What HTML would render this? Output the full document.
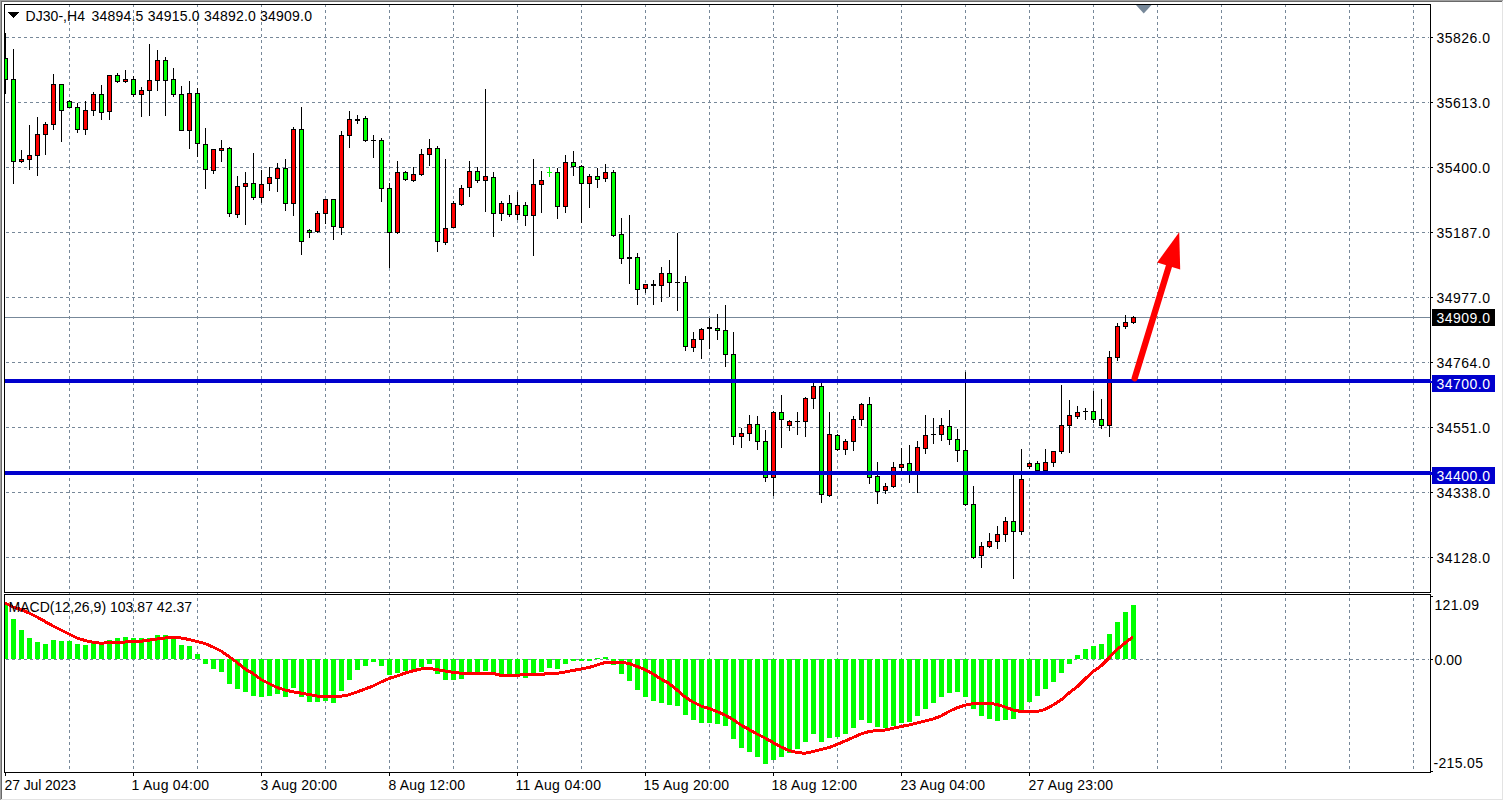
<!DOCTYPE html>
<html><head><meta charset="utf-8"><title>DJ30 H4</title><style>
html,body{margin:0;padding:0;background:#fff;width:1504px;height:801px;overflow:hidden}
svg{display:block}
text{font-family:"Liberation Sans",sans-serif;font-size:14px}
</style></head><body>
<svg width="1504" height="801" viewBox="0 0 1504 801" shape-rendering="crispEdges">
<defs>
<pattern id="hd" x="0" y="0" width="6" height="1" patternUnits="userSpaceOnUse"><rect width="3" height="1" fill="#778899"/></pattern>
<pattern id="vd" x="0" y="4" width="1" height="6" patternUnits="userSpaceOnUse"><rect width="1" height="3" fill="#778899"/></pattern>
<clipPath id="cm"><rect x="5" y="5" width="1425" height="587"/></clipPath>
<clipPath id="cmacd"><rect x="5" y="595" width="1425" height="177"/></clipPath>
</defs>
<rect width="1504" height="801" fill="#fff"/>
<rect x="0" y="0" width="1503" height="1" fill="#a0a0a0"/><rect x="0" y="0" width="1" height="800" fill="#a0a0a0"/><rect x="1" y="1" width="1501" height="1" fill="#696969"/><rect x="1" y="1" width="1" height="798" fill="#696969"/><rect x="1502" y="1" width="1" height="799" fill="#e3e3e3"/><rect x="1" y="799" width="1502" height="1" fill="#e3e3e3"/><rect x="69" y="5" width="1" height="767" fill="url(#vd)"/><rect x="133" y="5" width="1" height="767" fill="url(#vd)"/><rect x="197" y="5" width="1" height="767" fill="url(#vd)"/><rect x="261" y="5" width="1" height="767" fill="url(#vd)"/><rect x="325" y="5" width="1" height="767" fill="url(#vd)"/><rect x="389" y="5" width="1" height="767" fill="url(#vd)"/><rect x="453" y="5" width="1" height="767" fill="url(#vd)"/><rect x="517" y="5" width="1" height="767" fill="url(#vd)"/><rect x="581" y="5" width="1" height="767" fill="url(#vd)"/><rect x="645" y="5" width="1" height="767" fill="url(#vd)"/><rect x="709" y="5" width="1" height="767" fill="url(#vd)"/><rect x="773" y="5" width="1" height="767" fill="url(#vd)"/><rect x="837" y="5" width="1" height="767" fill="url(#vd)"/><rect x="901" y="5" width="1" height="767" fill="url(#vd)"/><rect x="965" y="5" width="1" height="767" fill="url(#vd)"/><rect x="1029" y="5" width="1" height="767" fill="url(#vd)"/><rect x="1093" y="5" width="1" height="767" fill="url(#vd)"/><rect x="1157" y="5" width="1" height="767" fill="url(#vd)"/><rect x="1221" y="5" width="1" height="767" fill="url(#vd)"/><rect x="1285" y="5" width="1" height="767" fill="url(#vd)"/><rect x="1349" y="5" width="1" height="767" fill="url(#vd)"/><rect x="1413" y="5" width="1" height="767" fill="url(#vd)"/><rect x="5" y="37" width="1424" height="1" fill="url(#hd)"/><rect x="5" y="102" width="1424" height="1" fill="url(#hd)"/><rect x="5" y="167" width="1424" height="1" fill="url(#hd)"/><rect x="5" y="232" width="1424" height="1" fill="url(#hd)"/><rect x="5" y="297" width="1424" height="1" fill="url(#hd)"/><rect x="5" y="362" width="1424" height="1" fill="url(#hd)"/><rect x="5" y="427" width="1424" height="1" fill="url(#hd)"/><rect x="5" y="492" width="1424" height="1" fill="url(#hd)"/><rect x="5" y="557" width="1424" height="1" fill="url(#hd)"/><rect x="5" y="659" width="1424" height="1" fill="url(#hd)"/><rect x="5" y="317" width="1425" height="1" fill="#778899"/><g clip-path="url(#cm)"><rect x="5" y="33" width="1" height="61" fill="#000"/><rect x="3" y="58" width="5" height="22" fill="#000"/><rect x="4" y="59" width="3" height="20" fill="#00ff00"/><rect x="13" y="49" width="1" height="135" fill="#000"/><rect x="11" y="79" width="5" height="83" fill="#000"/><rect x="12" y="80" width="3" height="81" fill="#00ff00"/><rect x="21" y="150" width="1" height="13" fill="#000"/><rect x="19" y="159" width="5" height="3" fill="#000"/><rect x="20" y="160" width="3" height="1" fill="#ff0000"/><rect x="29" y="125" width="1" height="45" fill="#000"/><rect x="27" y="155" width="5" height="5" fill="#000"/><rect x="28" y="156" width="3" height="3" fill="#ff0000"/><rect x="37" y="117" width="1" height="59" fill="#000"/><rect x="35" y="134" width="5" height="22" fill="#000"/><rect x="36" y="135" width="3" height="20" fill="#ff0000"/><rect x="45" y="122" width="1" height="33" fill="#000"/><rect x="43" y="124" width="5" height="11" fill="#000"/><rect x="44" y="125" width="3" height="9" fill="#ff0000"/><rect x="53" y="74" width="1" height="56" fill="#000"/><rect x="51" y="84" width="5" height="41" fill="#000"/><rect x="52" y="85" width="3" height="39" fill="#ff0000"/><rect x="61" y="84" width="1" height="58" fill="#000"/><rect x="59" y="84" width="5" height="27" fill="#000"/><rect x="60" y="85" width="3" height="25" fill="#00ff00"/><rect x="69" y="100" width="1" height="8" fill="#000"/><rect x="67" y="101" width="5" height="7" fill="#000"/><rect x="68" y="102" width="3" height="5" fill="#00ff00"/><rect x="77" y="103" width="1" height="30" fill="#000"/><rect x="75" y="107" width="5" height="23" fill="#000"/><rect x="76" y="108" width="3" height="21" fill="#00ff00"/><rect x="85" y="101" width="1" height="34" fill="#000"/><rect x="83" y="110" width="5" height="20" fill="#000"/><rect x="84" y="111" width="3" height="18" fill="#ff0000"/><rect x="93" y="92" width="1" height="24" fill="#000"/><rect x="91" y="94" width="5" height="17" fill="#000"/><rect x="92" y="95" width="3" height="15" fill="#ff0000"/><rect x="101" y="85" width="1" height="35" fill="#000"/><rect x="99" y="94" width="5" height="19" fill="#000"/><rect x="100" y="95" width="3" height="17" fill="#00ff00"/><rect x="109" y="75" width="1" height="45" fill="#000"/><rect x="107" y="75" width="5" height="37" fill="#000"/><rect x="108" y="76" width="3" height="35" fill="#ff0000"/><rect x="117" y="73" width="1" height="10" fill="#000"/><rect x="115" y="75" width="5" height="7" fill="#000"/><rect x="116" y="76" width="3" height="5" fill="#00ff00"/><rect x="125" y="70" width="1" height="13" fill="#000"/><rect x="123" y="79" width="5" height="3" fill="#000"/><rect x="124" y="80" width="3" height="1" fill="#ff0000"/><rect x="133" y="76" width="1" height="21" fill="#000"/><rect x="131" y="79" width="5" height="16" fill="#000"/><rect x="132" y="80" width="3" height="14" fill="#00ff00"/><rect x="141" y="87" width="1" height="30" fill="#000"/><rect x="139" y="90" width="5" height="5" fill="#000"/><rect x="140" y="91" width="3" height="3" fill="#ff0000"/><rect x="149" y="44" width="1" height="72" fill="#000"/><rect x="147" y="80" width="5" height="11" fill="#000"/><rect x="148" y="81" width="3" height="9" fill="#ff0000"/><rect x="157" y="50" width="1" height="41" fill="#000"/><rect x="155" y="60" width="5" height="21" fill="#000"/><rect x="156" y="61" width="3" height="19" fill="#ff0000"/><rect x="165" y="57" width="1" height="59" fill="#000"/><rect x="163" y="60" width="5" height="21" fill="#000"/><rect x="164" y="61" width="3" height="19" fill="#00ff00"/><rect x="173" y="68" width="1" height="29" fill="#000"/><rect x="171" y="79" width="5" height="16" fill="#000"/><rect x="172" y="80" width="3" height="14" fill="#00ff00"/><rect x="181" y="86" width="1" height="45" fill="#000"/><rect x="179" y="94" width="5" height="37" fill="#000"/><rect x="180" y="95" width="3" height="35" fill="#00ff00"/><rect x="189" y="81" width="1" height="68" fill="#000"/><rect x="187" y="93" width="5" height="38" fill="#000"/><rect x="188" y="94" width="3" height="36" fill="#ff0000"/><rect x="197" y="88" width="1" height="69" fill="#000"/><rect x="195" y="93" width="5" height="51" fill="#000"/><rect x="196" y="94" width="3" height="49" fill="#00ff00"/><rect x="205" y="128" width="1" height="61" fill="#000"/><rect x="203" y="144" width="5" height="26" fill="#000"/><rect x="204" y="145" width="3" height="24" fill="#00ff00"/><rect x="213" y="149" width="1" height="25" fill="#000"/><rect x="211" y="149" width="5" height="22" fill="#000"/><rect x="212" y="150" width="3" height="20" fill="#ff0000"/><rect x="221" y="140" width="1" height="22" fill="#000"/><rect x="219" y="148" width="5" height="3" fill="#000"/><rect x="220" y="149" width="3" height="1" fill="#ff0000"/><rect x="229" y="147" width="1" height="70" fill="#000"/><rect x="227" y="148" width="5" height="66" fill="#000"/><rect x="228" y="149" width="3" height="64" fill="#00ff00"/><rect x="237" y="176" width="1" height="42" fill="#000"/><rect x="235" y="186" width="5" height="29" fill="#000"/><rect x="236" y="187" width="3" height="27" fill="#ff0000"/><rect x="245" y="172" width="1" height="53" fill="#000"/><rect x="243" y="183" width="5" height="4" fill="#000"/><rect x="244" y="184" width="3" height="2" fill="#ff0000"/><rect x="253" y="153" width="1" height="47" fill="#000"/><rect x="251" y="183" width="5" height="15" fill="#000"/><rect x="252" y="184" width="3" height="13" fill="#00ff00"/><rect x="261" y="170" width="1" height="33" fill="#000"/><rect x="259" y="184" width="5" height="14" fill="#000"/><rect x="260" y="185" width="3" height="12" fill="#ff0000"/><rect x="269" y="167" width="1" height="24" fill="#000"/><rect x="267" y="177" width="5" height="7" fill="#000"/><rect x="268" y="178" width="3" height="5" fill="#ff0000"/><rect x="277" y="163" width="1" height="29" fill="#000"/><rect x="275" y="168" width="5" height="11" fill="#000"/><rect x="276" y="169" width="3" height="9" fill="#ff0000"/><rect x="285" y="159" width="1" height="52" fill="#000"/><rect x="283" y="168" width="5" height="36" fill="#000"/><rect x="284" y="169" width="3" height="34" fill="#00ff00"/><rect x="293" y="127" width="1" height="89" fill="#000"/><rect x="291" y="129" width="5" height="75" fill="#000"/><rect x="292" y="130" width="3" height="73" fill="#ff0000"/><rect x="301" y="107" width="1" height="148" fill="#000"/><rect x="299" y="129" width="5" height="113" fill="#000"/><rect x="300" y="130" width="3" height="111" fill="#00ff00"/><rect x="309" y="229" width="1" height="9" fill="#000"/><rect x="307" y="230" width="5" height="3" fill="#000"/><rect x="308" y="231" width="3" height="1" fill="#00ff00"/><rect x="317" y="211" width="1" height="22" fill="#000"/><rect x="315" y="213" width="5" height="19" fill="#000"/><rect x="316" y="214" width="3" height="17" fill="#ff0000"/><rect x="325" y="199" width="1" height="25" fill="#000"/><rect x="323" y="199" width="5" height="15" fill="#000"/><rect x="324" y="200" width="3" height="13" fill="#ff0000"/><rect x="333" y="199" width="1" height="41" fill="#000"/><rect x="331" y="199" width="5" height="28" fill="#000"/><rect x="332" y="200" width="3" height="26" fill="#00ff00"/><rect x="341" y="131" width="1" height="104" fill="#000"/><rect x="339" y="135" width="5" height="93" fill="#000"/><rect x="340" y="136" width="3" height="91" fill="#ff0000"/><rect x="349" y="111" width="1" height="37" fill="#000"/><rect x="347" y="119" width="5" height="17" fill="#000"/><rect x="348" y="120" width="3" height="15" fill="#ff0000"/><rect x="357" y="115" width="1" height="9" fill="#000"/><rect x="355" y="119" width="5" height="2" fill="#000"/><rect x="365" y="116" width="1" height="26" fill="#000"/><rect x="363" y="118" width="5" height="23" fill="#000"/><rect x="364" y="119" width="3" height="21" fill="#00ff00"/><rect x="373" y="135" width="1" height="23" fill="#000"/><rect x="371" y="140" width="5" height="1" fill="#000"/><rect x="381" y="138" width="1" height="64" fill="#000"/><rect x="379" y="140" width="5" height="49" fill="#000"/><rect x="380" y="141" width="3" height="47" fill="#00ff00"/><rect x="389" y="183" width="1" height="85" fill="#000"/><rect x="387" y="188" width="5" height="45" fill="#000"/><rect x="388" y="189" width="3" height="43" fill="#00ff00"/><rect x="397" y="161" width="1" height="73" fill="#000"/><rect x="395" y="172" width="5" height="61" fill="#000"/><rect x="396" y="173" width="3" height="59" fill="#ff0000"/><rect x="405" y="171" width="1" height="10" fill="#000"/><rect x="403" y="172" width="5" height="8" fill="#000"/><rect x="404" y="173" width="3" height="6" fill="#00ff00"/><rect x="413" y="167" width="1" height="15" fill="#000"/><rect x="411" y="174" width="5" height="7" fill="#000"/><rect x="412" y="175" width="3" height="5" fill="#ff0000"/><rect x="421" y="149" width="1" height="27" fill="#000"/><rect x="419" y="154" width="5" height="21" fill="#000"/><rect x="420" y="155" width="3" height="19" fill="#ff0000"/><rect x="429" y="139" width="1" height="27" fill="#000"/><rect x="427" y="148" width="5" height="7" fill="#000"/><rect x="428" y="149" width="3" height="5" fill="#ff0000"/><rect x="437" y="146" width="1" height="106" fill="#000"/><rect x="435" y="148" width="5" height="94" fill="#000"/><rect x="436" y="149" width="3" height="92" fill="#00ff00"/><rect x="445" y="159" width="1" height="86" fill="#000"/><rect x="443" y="228" width="5" height="15" fill="#000"/><rect x="444" y="229" width="3" height="13" fill="#ff0000"/><rect x="453" y="201" width="1" height="27" fill="#000"/><rect x="451" y="203" width="5" height="25" fill="#000"/><rect x="452" y="204" width="3" height="23" fill="#ff0000"/><rect x="461" y="185" width="1" height="21" fill="#000"/><rect x="459" y="188" width="5" height="17" fill="#000"/><rect x="460" y="189" width="3" height="15" fill="#ff0000"/><rect x="469" y="161" width="1" height="36" fill="#000"/><rect x="467" y="171" width="5" height="17" fill="#000"/><rect x="468" y="172" width="3" height="15" fill="#ff0000"/><rect x="477" y="167" width="1" height="16" fill="#000"/><rect x="475" y="171" width="5" height="10" fill="#000"/><rect x="476" y="172" width="3" height="8" fill="#00ff00"/><rect x="485" y="89" width="1" height="123" fill="#000"/><rect x="483" y="176" width="5" height="5" fill="#000"/><rect x="484" y="177" width="3" height="3" fill="#ff0000"/><rect x="493" y="172" width="1" height="65" fill="#000"/><rect x="491" y="177" width="5" height="37" fill="#000"/><rect x="492" y="178" width="3" height="35" fill="#00ff00"/><rect x="501" y="201" width="1" height="20" fill="#000"/><rect x="499" y="203" width="5" height="11" fill="#000"/><rect x="500" y="204" width="3" height="9" fill="#ff0000"/><rect x="509" y="195" width="1" height="22" fill="#000"/><rect x="507" y="203" width="5" height="12" fill="#000"/><rect x="508" y="204" width="3" height="10" fill="#00ff00"/><rect x="517" y="192" width="1" height="28" fill="#000"/><rect x="515" y="205" width="5" height="10" fill="#000"/><rect x="516" y="206" width="3" height="8" fill="#ff0000"/><rect x="525" y="202" width="1" height="24" fill="#000"/><rect x="523" y="205" width="5" height="11" fill="#000"/><rect x="524" y="206" width="3" height="9" fill="#00ff00"/><rect x="533" y="159" width="1" height="97" fill="#000"/><rect x="531" y="184" width="5" height="32" fill="#000"/><rect x="532" y="185" width="3" height="30" fill="#ff0000"/><rect x="541" y="171" width="1" height="42" fill="#000"/><rect x="539" y="180" width="5" height="5" fill="#000"/><rect x="540" y="181" width="3" height="3" fill="#ff0000"/><rect x="549" y="167" width="1" height="10" fill="#00ff00"/><rect x="547" y="172" width="5" height="1" fill="#00ff00"/><rect x="557" y="168" width="1" height="51" fill="#000"/><rect x="555" y="172" width="5" height="35" fill="#000"/><rect x="556" y="173" width="3" height="33" fill="#00ff00"/><rect x="565" y="155" width="1" height="58" fill="#000"/><rect x="563" y="162" width="5" height="45" fill="#000"/><rect x="564" y="163" width="3" height="43" fill="#ff0000"/><rect x="573" y="151" width="1" height="25" fill="#000"/><rect x="571" y="162" width="5" height="5" fill="#000"/><rect x="572" y="163" width="3" height="3" fill="#00ff00"/><rect x="581" y="165" width="1" height="58" fill="#000"/><rect x="579" y="166" width="5" height="18" fill="#000"/><rect x="580" y="167" width="3" height="16" fill="#00ff00"/><rect x="589" y="174" width="1" height="34" fill="#000"/><rect x="587" y="176" width="5" height="8" fill="#000"/><rect x="588" y="177" width="3" height="6" fill="#ff0000"/><rect x="597" y="168" width="1" height="20" fill="#000"/><rect x="595" y="176" width="5" height="4" fill="#000"/><rect x="596" y="177" width="3" height="2" fill="#00ff00"/><rect x="605" y="164" width="1" height="18" fill="#000"/><rect x="603" y="172" width="5" height="7" fill="#000"/><rect x="604" y="173" width="3" height="5" fill="#ff0000"/><rect x="613" y="170" width="1" height="67" fill="#000"/><rect x="611" y="172" width="5" height="64" fill="#000"/><rect x="612" y="173" width="3" height="62" fill="#00ff00"/><rect x="621" y="218" width="1" height="46" fill="#000"/><rect x="619" y="234" width="5" height="25" fill="#000"/><rect x="620" y="235" width="3" height="23" fill="#00ff00"/><rect x="629" y="215" width="1" height="69" fill="#000"/><rect x="627" y="257" width="5" height="2" fill="#000"/><rect x="637" y="253" width="1" height="52" fill="#000"/><rect x="635" y="257" width="5" height="33" fill="#000"/><rect x="636" y="258" width="3" height="31" fill="#00ff00"/><rect x="645" y="284" width="1" height="9" fill="#000"/><rect x="643" y="284" width="5" height="5" fill="#000"/><rect x="644" y="285" width="3" height="3" fill="#ff0000"/><rect x="653" y="280" width="1" height="25" fill="#000"/><rect x="651" y="284" width="5" height="2" fill="#000"/><rect x="661" y="267" width="1" height="35" fill="#000"/><rect x="659" y="273" width="5" height="13" fill="#000"/><rect x="660" y="274" width="3" height="11" fill="#ff0000"/><rect x="669" y="260" width="1" height="37" fill="#000"/><rect x="667" y="273" width="5" height="10" fill="#000"/><rect x="668" y="274" width="3" height="8" fill="#00ff00"/><rect x="677" y="233" width="1" height="78" fill="#000"/><rect x="675" y="282" width="5" height="1" fill="#000"/><rect x="685" y="276" width="1" height="75" fill="#000"/><rect x="683" y="282" width="5" height="65" fill="#000"/><rect x="684" y="283" width="3" height="63" fill="#00ff00"/><rect x="693" y="332" width="1" height="20" fill="#000"/><rect x="691" y="339" width="5" height="9" fill="#000"/><rect x="692" y="340" width="3" height="7" fill="#ff0000"/><rect x="701" y="328" width="1" height="31" fill="#000"/><rect x="699" y="329" width="5" height="11" fill="#000"/><rect x="700" y="330" width="3" height="9" fill="#ff0000"/><rect x="709" y="318" width="1" height="31" fill="#000"/><rect x="707" y="327" width="5" height="2" fill="#000"/><rect x="717" y="314" width="1" height="26" fill="#000"/><rect x="715" y="328" width="5" height="3" fill="#000"/><rect x="716" y="329" width="3" height="1" fill="#00ff00"/><rect x="725" y="305" width="1" height="62" fill="#000"/><rect x="723" y="330" width="5" height="25" fill="#000"/><rect x="724" y="331" width="3" height="23" fill="#00ff00"/><rect x="733" y="332" width="1" height="113" fill="#000"/><rect x="731" y="354" width="5" height="83" fill="#000"/><rect x="732" y="355" width="3" height="81" fill="#00ff00"/><rect x="741" y="428" width="1" height="20" fill="#000"/><rect x="739" y="433" width="5" height="4" fill="#000"/><rect x="740" y="434" width="3" height="2" fill="#ff0000"/><rect x="749" y="415" width="1" height="26" fill="#000"/><rect x="747" y="424" width="5" height="10" fill="#000"/><rect x="748" y="425" width="3" height="8" fill="#ff0000"/><rect x="757" y="416" width="1" height="34" fill="#000"/><rect x="755" y="424" width="5" height="18" fill="#000"/><rect x="756" y="425" width="3" height="16" fill="#00ff00"/><rect x="765" y="430" width="1" height="52" fill="#000"/><rect x="763" y="441" width="5" height="37" fill="#000"/><rect x="764" y="442" width="3" height="35" fill="#00ff00"/><rect x="773" y="411" width="1" height="85" fill="#000"/><rect x="771" y="412" width="5" height="66" fill="#000"/><rect x="772" y="413" width="3" height="64" fill="#ff0000"/><rect x="781" y="395" width="1" height="53" fill="#000"/><rect x="779" y="412" width="5" height="8" fill="#000"/><rect x="780" y="413" width="3" height="6" fill="#00ff00"/><rect x="789" y="420" width="1" height="11" fill="#000"/><rect x="787" y="421" width="5" height="5" fill="#000"/><rect x="788" y="422" width="3" height="3" fill="#ff0000"/><rect x="797" y="412" width="1" height="23" fill="#000"/><rect x="795" y="421" width="5" height="1" fill="#000"/><rect x="805" y="397" width="1" height="40" fill="#000"/><rect x="803" y="398" width="5" height="24" fill="#000"/><rect x="804" y="399" width="3" height="22" fill="#ff0000"/><rect x="813" y="383" width="1" height="26" fill="#000"/><rect x="811" y="386" width="5" height="13" fill="#000"/><rect x="812" y="387" width="3" height="11" fill="#ff0000"/><rect x="821" y="383" width="1" height="120" fill="#000"/><rect x="819" y="386" width="5" height="109" fill="#000"/><rect x="820" y="387" width="3" height="107" fill="#00ff00"/><rect x="829" y="412" width="1" height="85" fill="#000"/><rect x="827" y="434" width="5" height="62" fill="#000"/><rect x="828" y="435" width="3" height="60" fill="#ff0000"/><rect x="837" y="434" width="1" height="17" fill="#000"/><rect x="835" y="435" width="5" height="15" fill="#000"/><rect x="836" y="436" width="3" height="13" fill="#00ff00"/><rect x="845" y="439" width="1" height="16" fill="#000"/><rect x="843" y="441" width="5" height="9" fill="#000"/><rect x="844" y="442" width="3" height="7" fill="#ff0000"/><rect x="853" y="416" width="1" height="35" fill="#000"/><rect x="851" y="419" width="5" height="23" fill="#000"/><rect x="852" y="420" width="3" height="21" fill="#ff0000"/><rect x="861" y="403" width="1" height="23" fill="#000"/><rect x="859" y="404" width="5" height="16" fill="#000"/><rect x="860" y="405" width="3" height="14" fill="#ff0000"/><rect x="869" y="397" width="1" height="87" fill="#000"/><rect x="867" y="404" width="5" height="74" fill="#000"/><rect x="868" y="405" width="3" height="72" fill="#00ff00"/><rect x="877" y="462" width="1" height="42" fill="#000"/><rect x="875" y="476" width="5" height="16" fill="#000"/><rect x="876" y="477" width="3" height="14" fill="#00ff00"/><rect x="885" y="483" width="1" height="11" fill="#000"/><rect x="883" y="486" width="5" height="5" fill="#000"/><rect x="884" y="487" width="3" height="3" fill="#ff0000"/><rect x="893" y="462" width="1" height="26" fill="#000"/><rect x="891" y="467" width="5" height="20" fill="#000"/><rect x="892" y="468" width="3" height="18" fill="#ff0000"/><rect x="901" y="448" width="1" height="23" fill="#000"/><rect x="899" y="464" width="5" height="4" fill="#000"/><rect x="900" y="465" width="3" height="2" fill="#ff0000"/><rect x="909" y="445" width="1" height="38" fill="#000"/><rect x="907" y="463" width="5" height="9" fill="#000"/><rect x="908" y="464" width="3" height="7" fill="#00ff00"/><rect x="917" y="441" width="1" height="52" fill="#000"/><rect x="915" y="447" width="5" height="26" fill="#000"/><rect x="916" y="448" width="3" height="24" fill="#ff0000"/><rect x="925" y="415" width="1" height="39" fill="#000"/><rect x="923" y="435" width="5" height="14" fill="#000"/><rect x="924" y="436" width="3" height="12" fill="#ff0000"/><rect x="933" y="418" width="1" height="26" fill="#000"/><rect x="931" y="434" width="5" height="1" fill="#000"/><rect x="941" y="418" width="1" height="23" fill="#000"/><rect x="939" y="425" width="5" height="10" fill="#000"/><rect x="940" y="426" width="3" height="8" fill="#ff0000"/><rect x="949" y="410" width="1" height="35" fill="#000"/><rect x="947" y="426" width="5" height="14" fill="#000"/><rect x="948" y="427" width="3" height="12" fill="#00ff00"/><rect x="957" y="429" width="1" height="33" fill="#000"/><rect x="955" y="439" width="5" height="12" fill="#000"/><rect x="956" y="440" width="3" height="10" fill="#00ff00"/><rect x="965" y="372" width="1" height="134" fill="#000"/><rect x="963" y="450" width="5" height="55" fill="#000"/><rect x="964" y="451" width="3" height="53" fill="#00ff00"/><rect x="973" y="486" width="1" height="73" fill="#000"/><rect x="971" y="504" width="5" height="54" fill="#000"/><rect x="972" y="505" width="3" height="52" fill="#00ff00"/><rect x="981" y="542" width="1" height="26" fill="#000"/><rect x="979" y="546" width="5" height="10" fill="#000"/><rect x="980" y="547" width="3" height="8" fill="#ff0000"/><rect x="989" y="533" width="1" height="15" fill="#000"/><rect x="987" y="541" width="5" height="6" fill="#000"/><rect x="988" y="542" width="3" height="4" fill="#ff0000"/><rect x="997" y="526" width="1" height="23" fill="#000"/><rect x="995" y="534" width="5" height="8" fill="#000"/><rect x="996" y="535" width="3" height="6" fill="#ff0000"/><rect x="1005" y="517" width="1" height="25" fill="#000"/><rect x="1003" y="521" width="5" height="14" fill="#000"/><rect x="1004" y="522" width="3" height="12" fill="#ff0000"/><rect x="1013" y="475" width="1" height="104" fill="#000"/><rect x="1011" y="521" width="5" height="11" fill="#000"/><rect x="1012" y="522" width="3" height="9" fill="#00ff00"/><rect x="1021" y="449" width="1" height="86" fill="#000"/><rect x="1019" y="479" width="5" height="53" fill="#000"/><rect x="1020" y="480" width="3" height="51" fill="#ff0000"/><rect x="1029" y="462" width="1" height="7" fill="#000"/><rect x="1027" y="463" width="5" height="4" fill="#000"/><rect x="1028" y="464" width="3" height="2" fill="#ff0000"/><rect x="1037" y="461" width="1" height="10" fill="#000"/><rect x="1035" y="463" width="5" height="8" fill="#000"/><rect x="1036" y="464" width="3" height="6" fill="#00ff00"/><rect x="1045" y="449" width="1" height="22" fill="#000"/><rect x="1043" y="462" width="5" height="9" fill="#000"/><rect x="1044" y="463" width="3" height="7" fill="#ff0000"/><rect x="1053" y="451" width="1" height="16" fill="#000"/><rect x="1051" y="451" width="5" height="12" fill="#000"/><rect x="1052" y="452" width="3" height="10" fill="#ff0000"/><rect x="1061" y="385" width="1" height="69" fill="#000"/><rect x="1059" y="425" width="5" height="27" fill="#000"/><rect x="1060" y="426" width="3" height="25" fill="#ff0000"/><rect x="1069" y="400" width="1" height="53" fill="#000"/><rect x="1067" y="415" width="5" height="11" fill="#000"/><rect x="1068" y="416" width="3" height="9" fill="#ff0000"/><rect x="1077" y="406" width="1" height="13" fill="#000"/><rect x="1075" y="412" width="5" height="5" fill="#000"/><rect x="1076" y="413" width="3" height="3" fill="#ff0000"/><rect x="1085" y="408" width="1" height="12" fill="#000"/><rect x="1083" y="411" width="5" height="1" fill="#000"/><rect x="1093" y="391" width="1" height="32" fill="#000"/><rect x="1091" y="411" width="5" height="9" fill="#000"/><rect x="1092" y="412" width="3" height="7" fill="#00ff00"/><rect x="1101" y="399" width="1" height="30" fill="#000"/><rect x="1099" y="419" width="5" height="7" fill="#000"/><rect x="1100" y="420" width="3" height="5" fill="#00ff00"/><rect x="1109" y="351" width="1" height="86" fill="#000"/><rect x="1107" y="357" width="5" height="69" fill="#000"/><rect x="1108" y="358" width="3" height="67" fill="#ff0000"/><rect x="1117" y="323" width="1" height="38" fill="#000"/><rect x="1115" y="326" width="5" height="32" fill="#000"/><rect x="1116" y="327" width="3" height="30" fill="#ff0000"/><rect x="1125" y="315" width="1" height="14" fill="#000"/><rect x="1123" y="322" width="5" height="5" fill="#000"/><rect x="1124" y="323" width="3" height="3" fill="#ff0000"/><rect x="1133" y="316" width="1" height="8" fill="#000"/><rect x="1131" y="317" width="5" height="6" fill="#000"/><rect x="1132" y="318" width="3" height="4" fill="#ff0000"/></g><rect x="5" y="603" width="3" height="56" fill="#00ff00"/><rect x="11" y="619" width="5" height="40" fill="#00ff00"/><rect x="19" y="630" width="5" height="29" fill="#00ff00"/><rect x="27" y="638" width="5" height="21" fill="#00ff00"/><rect x="35" y="642" width="5" height="17" fill="#00ff00"/><rect x="43" y="644" width="5" height="15" fill="#00ff00"/><rect x="51" y="640" width="5" height="19" fill="#00ff00"/><rect x="59" y="641" width="5" height="18" fill="#00ff00"/><rect x="67" y="641" width="5" height="18" fill="#00ff00"/><rect x="75" y="644" width="5" height="15" fill="#00ff00"/><rect x="83" y="645" width="5" height="14" fill="#00ff00"/><rect x="91" y="643" width="5" height="16" fill="#00ff00"/><rect x="99" y="644" width="5" height="15" fill="#00ff00"/><rect x="107" y="640" width="5" height="19" fill="#00ff00"/><rect x="115" y="638" width="5" height="21" fill="#00ff00"/><rect x="123" y="637" width="5" height="22" fill="#00ff00"/><rect x="131" y="638" width="5" height="21" fill="#00ff00"/><rect x="139" y="638" width="5" height="21" fill="#00ff00"/><rect x="147" y="638" width="5" height="21" fill="#00ff00"/><rect x="155" y="635" width="5" height="24" fill="#00ff00"/><rect x="163" y="635" width="5" height="24" fill="#00ff00"/><rect x="171" y="638" width="5" height="21" fill="#00ff00"/><rect x="179" y="645" width="5" height="14" fill="#00ff00"/><rect x="187" y="646" width="5" height="13" fill="#00ff00"/><rect x="195" y="654" width="5" height="5" fill="#00ff00"/><rect x="203" y="659" width="5" height="5" fill="#00ff00"/><rect x="211" y="659" width="5" height="10" fill="#00ff00"/><rect x="219" y="659" width="5" height="13" fill="#00ff00"/><rect x="227" y="659" width="5" height="25" fill="#00ff00"/><rect x="235" y="659" width="5" height="30" fill="#00ff00"/><rect x="243" y="659" width="5" height="33" fill="#00ff00"/><rect x="251" y="659" width="5" height="37" fill="#00ff00"/><rect x="259" y="659" width="5" height="38" fill="#00ff00"/><rect x="267" y="659" width="5" height="37" fill="#00ff00"/><rect x="275" y="659" width="5" height="35" fill="#00ff00"/><rect x="283" y="659" width="5" height="38" fill="#00ff00"/><rect x="291" y="659" width="5" height="29" fill="#00ff00"/><rect x="299" y="659" width="5" height="38" fill="#00ff00"/><rect x="307" y="659" width="5" height="43" fill="#00ff00"/><rect x="315" y="659" width="5" height="43" fill="#00ff00"/><rect x="323" y="659" width="5" height="42" fill="#00ff00"/><rect x="331" y="659" width="5" height="44" fill="#00ff00"/><rect x="339" y="659" width="5" height="32" fill="#00ff00"/><rect x="347" y="659" width="5" height="21" fill="#00ff00"/><rect x="355" y="659" width="5" height="11" fill="#00ff00"/><rect x="363" y="659" width="5" height="7" fill="#00ff00"/><rect x="371" y="659" width="5" height="3" fill="#00ff00"/><rect x="379" y="659" width="5" height="7" fill="#00ff00"/><rect x="387" y="659" width="5" height="16" fill="#00ff00"/><rect x="395" y="659" width="5" height="14" fill="#00ff00"/><rect x="403" y="659" width="5" height="12" fill="#00ff00"/><rect x="411" y="659" width="5" height="11" fill="#00ff00"/><rect x="419" y="659" width="5" height="8" fill="#00ff00"/><rect x="427" y="659" width="5" height="5" fill="#00ff00"/><rect x="435" y="659" width="5" height="15" fill="#00ff00"/><rect x="443" y="659" width="5" height="21" fill="#00ff00"/><rect x="451" y="659" width="5" height="21" fill="#00ff00"/><rect x="459" y="659" width="5" height="20" fill="#00ff00"/><rect x="467" y="659" width="5" height="15" fill="#00ff00"/><rect x="475" y="659" width="5" height="14" fill="#00ff00"/><rect x="483" y="659" width="5" height="12" fill="#00ff00"/><rect x="491" y="659" width="5" height="14" fill="#00ff00"/><rect x="499" y="659" width="5" height="15" fill="#00ff00"/><rect x="507" y="659" width="5" height="16" fill="#00ff00"/><rect x="515" y="659" width="5" height="17" fill="#00ff00"/><rect x="523" y="659" width="5" height="19" fill="#00ff00"/><rect x="531" y="659" width="5" height="15" fill="#00ff00"/><rect x="539" y="659" width="5" height="13" fill="#00ff00"/><rect x="547" y="659" width="5" height="9" fill="#00ff00"/><rect x="555" y="659" width="5" height="10" fill="#00ff00"/><rect x="563" y="659" width="5" height="5" fill="#00ff00"/><rect x="571" y="659" width="5" height="2" fill="#00ff00"/><rect x="579" y="659" width="5" height="2" fill="#00ff00"/><rect x="587" y="659" width="5" height="2" fill="#00ff00"/><rect x="595" y="658" width="5" height="1" fill="#00ff00"/><rect x="603" y="657" width="5" height="2" fill="#00ff00"/><rect x="611" y="659" width="5" height="6" fill="#00ff00"/><rect x="619" y="659" width="5" height="15" fill="#00ff00"/><rect x="627" y="659" width="5" height="22" fill="#00ff00"/><rect x="635" y="659" width="5" height="31" fill="#00ff00"/><rect x="643" y="659" width="5" height="38" fill="#00ff00"/><rect x="651" y="659" width="5" height="42" fill="#00ff00"/><rect x="659" y="659" width="5" height="44" fill="#00ff00"/><rect x="667" y="659" width="5" height="46" fill="#00ff00"/><rect x="675" y="659" width="5" height="47" fill="#00ff00"/><rect x="683" y="659" width="5" height="56" fill="#00ff00"/><rect x="691" y="659" width="5" height="61" fill="#00ff00"/><rect x="699" y="659" width="5" height="64" fill="#00ff00"/><rect x="707" y="659" width="5" height="64" fill="#00ff00"/><rect x="715" y="659" width="5" height="65" fill="#00ff00"/><rect x="723" y="659" width="5" height="67" fill="#00ff00"/><rect x="731" y="659" width="5" height="80" fill="#00ff00"/><rect x="739" y="659" width="5" height="89" fill="#00ff00"/><rect x="747" y="659" width="5" height="93" fill="#00ff00"/><rect x="755" y="659" width="5" height="98" fill="#00ff00"/><rect x="763" y="659" width="5" height="105" fill="#00ff00"/><rect x="771" y="659" width="5" height="101" fill="#00ff00"/><rect x="779" y="659" width="5" height="98" fill="#00ff00"/><rect x="787" y="659" width="5" height="94" fill="#00ff00"/><rect x="795" y="659" width="5" height="90" fill="#00ff00"/><rect x="803" y="659" width="5" height="83" fill="#00ff00"/><rect x="811" y="659" width="5" height="75" fill="#00ff00"/><rect x="819" y="659" width="5" height="83" fill="#00ff00"/><rect x="827" y="659" width="5" height="79" fill="#00ff00"/><rect x="835" y="659" width="5" height="78" fill="#00ff00"/><rect x="843" y="659" width="5" height="75" fill="#00ff00"/><rect x="851" y="659" width="5" height="69" fill="#00ff00"/><rect x="859" y="659" width="5" height="61" fill="#00ff00"/><rect x="867" y="659" width="5" height="64" fill="#00ff00"/><rect x="875" y="659" width="5" height="68" fill="#00ff00"/><rect x="883" y="659" width="5" height="69" fill="#00ff00"/><rect x="891" y="659" width="5" height="67" fill="#00ff00"/><rect x="899" y="659" width="5" height="64" fill="#00ff00"/><rect x="907" y="659" width="5" height="63" fill="#00ff00"/><rect x="915" y="659" width="5" height="57" fill="#00ff00"/><rect x="923" y="659" width="5" height="50" fill="#00ff00"/><rect x="931" y="659" width="5" height="44" fill="#00ff00"/><rect x="939" y="659" width="5" height="38" fill="#00ff00"/><rect x="947" y="659" width="5" height="34" fill="#00ff00"/><rect x="955" y="659" width="5" height="33" fill="#00ff00"/><rect x="963" y="659" width="5" height="38" fill="#00ff00"/><rect x="971" y="659" width="5" height="50" fill="#00ff00"/><rect x="979" y="659" width="5" height="57" fill="#00ff00"/><rect x="987" y="659" width="5" height="60" fill="#00ff00"/><rect x="995" y="659" width="5" height="62" fill="#00ff00"/><rect x="1003" y="659" width="5" height="61" fill="#00ff00"/><rect x="1011" y="659" width="5" height="60" fill="#00ff00"/><rect x="1019" y="659" width="5" height="51" fill="#00ff00"/><rect x="1027" y="659" width="5" height="43" fill="#00ff00"/><rect x="1035" y="659" width="5" height="37" fill="#00ff00"/><rect x="1043" y="659" width="5" height="30" fill="#00ff00"/><rect x="1051" y="659" width="5" height="23" fill="#00ff00"/><rect x="1059" y="659" width="5" height="14" fill="#00ff00"/><rect x="1067" y="659" width="5" height="5" fill="#00ff00"/><rect x="1075" y="655" width="5" height="4" fill="#00ff00"/><rect x="1083" y="649" width="5" height="10" fill="#00ff00"/><rect x="1091" y="646" width="5" height="13" fill="#00ff00"/><rect x="1099" y="644" width="5" height="15" fill="#00ff00"/><rect x="1107" y="634" width="5" height="25" fill="#00ff00"/><rect x="1115" y="622" width="5" height="37" fill="#00ff00"/><rect x="1123" y="612" width="5" height="47" fill="#00ff00"/><rect x="1131" y="605" width="5" height="54" fill="#00ff00"/><polyline points="5,603 13,607 21,609.5 29,613 37,617 45,621.5 53,626 61,630 69,634 77,638 85,640.5 93,642.3 101,643.2 109,642.7 117,642.3 125,642 133,641.8 141,641.2 149,640.2 157,639 165,638 173,637.3 181,638 189,639.5 197,641.5 205,643.5 213,647 221,651 229,656.5 237,662.5 245,669 253,673.5 261,679.5 269,683.5 277,687.5 285,690 293,691.8 301,693.1 309,694.5 317,696 325,696.5 333,697 341,696.2 349,694.8 357,692 365,689 373,686 381,682 389,678.5 397,676 405,673.2 413,670.8 421,669 429,668.4 437,669.6 445,671 453,672.3 461,673.3 469,673.3 477,673.3 485,673.3 493,673.3 501,675.4 509,675.4 517,675.4 525,674.4 533,674.4 541,674.4 549,673.5 557,673.3 565,672 573,670.5 581,669 589,667.5 597,665 605,662.5 613,662.2 621,662.3 629,663.5 637,666.5 645,669.5 653,674 661,679 669,683.5 677,690 685,697 693,702 701,706 709,708.5 717,711.5 725,715 733,719.6 741,725 749,729.5 757,734 765,738 773,742.5 781,747 789,750.5 797,752.5 805,753.3 813,751.5 821,749.5 829,747.5 837,744.5 845,741 853,737.5 861,734 869,731.5 877,730.5 885,730 893,728.3 901,726.5 909,725 917,723 925,721 933,719 941,716 949,711.5 957,707.7 965,705.3 973,703.5 981,703.3 989,703.3 997,704.5 1005,707 1013,710 1021,711.5 1029,712 1037,711.5 1045,709.5 1053,705 1061,700 1069,693 1077,687 1085,679 1093,671.5 1101,666 1109,658 1117,649.5 1125,643 1133,637" fill="none" stroke="#ff0000" stroke-width="3" stroke-linejoin="round" clip-path="url(#cmacd)"/><rect x="4" y="4" width="1427" height="1" fill="#000"/><rect x="4" y="592" width="1427" height="1" fill="#000"/><rect x="4" y="4" width="1" height="589" fill="#000"/><rect x="1430" y="4" width="1" height="589" fill="#000"/><rect x="4" y="594" width="1427" height="1" fill="#000"/><rect x="4" y="772" width="1427" height="1" fill="#000"/><rect x="4" y="594" width="1" height="179" fill="#000"/><rect x="1430" y="594" width="1" height="179" fill="#000"/><rect x="5" y="379" width="1426" height="4" fill="#0000cd"/><rect x="1431" y="381" width="1" height="2" fill="#0000cd"/><rect x="5" y="471" width="1426" height="4" fill="#0000cd"/><rect x="1431" y="472" width="1" height="3" fill="#0000cd"/><rect x="1431" y="37" width="2" height="1" fill="#000"/><rect x="1431" y="102" width="2" height="1" fill="#000"/><rect x="1431" y="167" width="2" height="1" fill="#000"/><rect x="1431" y="232" width="2" height="1" fill="#000"/><rect x="1431" y="297" width="2" height="1" fill="#000"/><rect x="1431" y="362" width="2" height="1" fill="#000"/><rect x="1431" y="427" width="2" height="1" fill="#000"/><rect x="1431" y="492" width="2" height="1" fill="#000"/><rect x="1431" y="557" width="2" height="1" fill="#000"/><rect x="1432" y="309" width="63" height="17" fill="#000"/><rect x="1432" y="375" width="63" height="17" fill="#0000cd"/><rect x="1432" y="467" width="63" height="17" fill="#0000cd"/><rect x="1431" y="596" width="2" height="1" fill="#000"/><rect x="1431" y="659" width="2" height="1" fill="#000"/><rect x="1431" y="771" width="2" height="1" fill="#000"/><rect x="5" y="773" width="1" height="3" fill="#000"/><rect x="133" y="773" width="1" height="3" fill="#000"/><rect x="261" y="773" width="1" height="3" fill="#000"/><rect x="389" y="773" width="1" height="3" fill="#000"/><rect x="517" y="773" width="1" height="3" fill="#000"/><rect x="645" y="773" width="1" height="3" fill="#000"/><rect x="773" y="773" width="1" height="3" fill="#000"/><rect x="901" y="773" width="1" height="3" fill="#000"/><rect x="1029" y="773" width="1" height="3" fill="#000"/><rect x="8" y="12" width="11" height="1" fill="#000"/><rect x="9" y="13" width="9" height="1" fill="#000"/><rect x="10" y="14" width="7" height="1" fill="#000"/><rect x="11" y="15" width="5" height="1" fill="#000"/><rect x="12" y="16" width="3" height="1" fill="#000"/><rect x="13" y="17" width="1" height="1" fill="#000"/><polygon points="1136,5 1151.5,5 1143.75,13.5" fill="#778899" shape-rendering="auto"/><g shape-rendering="auto"><line x1="1134.7" y1="378.2" x2="1169.3" y2="265" stroke="#ff0000" stroke-width="6.3" stroke-linecap="round"/><polygon points="1179.2,232.2 1157.2,262.4 1180.2,269.6" fill="#ff0000"/></g>
<g><text x="1436.50" y="43" fill="#000" textLength="53.50" lengthAdjust="spacing">35826.0</text><text x="1436.50" y="108" fill="#000" textLength="53.50" lengthAdjust="spacing">35613.0</text><text x="1436.50" y="173" fill="#000" textLength="53.50" lengthAdjust="spacing">35400.0</text><text x="1436.50" y="238" fill="#000" textLength="53.50" lengthAdjust="spacing">35187.0</text><text x="1436.50" y="303" fill="#000" textLength="53.50" lengthAdjust="spacing">34977.0</text><text x="1436.50" y="368" fill="#000" textLength="53.50" lengthAdjust="spacing">34764.0</text><text x="1436.50" y="433" fill="#000" textLength="53.50" lengthAdjust="spacing">34551.0</text><text x="1436.50" y="498" fill="#000" textLength="53.50" lengthAdjust="spacing">34338.0</text><text x="1436.50" y="563" fill="#000" textLength="53.50" lengthAdjust="spacing">34128.0</text><text x="1436.50" y="323" fill="#fff" textLength="53.50" lengthAdjust="spacing">34909.0</text><text x="1436.50" y="389" fill="#fff" textLength="53.50" lengthAdjust="spacing">34700.0</text><text x="1436.50" y="481" fill="#fff" textLength="53.50" lengthAdjust="spacing">34400.0</text><text x="1434.50" y="610" fill="#000" textLength="44.50" lengthAdjust="spacing">121.09</text><text x="1434.50" y="665" fill="#000" textLength="27.50" lengthAdjust="spacing">0.00</text><text x="1433.50" y="768" fill="#000" textLength="49.50" lengthAdjust="spacing">-215.05</text><text x="4.50" y="790" fill="#000" textLength="71.50" lengthAdjust="spacing">27 Jul 2023</text><text x="131.50" y="790" fill="#000" textLength="77.50" lengthAdjust="spacing">1 Aug 04:00</text><text x="260.50" y="790" fill="#000" textLength="76.50" lengthAdjust="spacing">3 Aug 20:00</text><text x="388.50" y="790" fill="#000" textLength="76.50" lengthAdjust="spacing">8 Aug 12:00</text><text x="515.50" y="790" fill="#000" textLength="85.50" lengthAdjust="spacing">11 Aug 04:00</text><text x="643.50" y="790" fill="#000" textLength="85.50" lengthAdjust="spacing">15 Aug 20:00</text><text x="771.50" y="790" fill="#000" textLength="85.50" lengthAdjust="spacing">18 Aug 12:00</text><text x="900.50" y="790" fill="#000" textLength="84.50" lengthAdjust="spacing">23 Aug 04:00</text><text x="1028.50" y="790" fill="#000" textLength="84.50" lengthAdjust="spacing">27 Aug 23:00</text><text x="25.50" y="21" fill="#000" textLength="59.50" lengthAdjust="spacing">DJ30-,H4</text><text x="91.50" y="21" fill="#000" textLength="220.50" lengthAdjust="spacing">34894.5 34915.0 34892.0 34909.0</text><text x="8.50" y="612" fill="#000" textLength="183.50" lengthAdjust="spacing">MACD(12,26,9) 103.87 42.37</text></g>
</svg>
</body></html>
